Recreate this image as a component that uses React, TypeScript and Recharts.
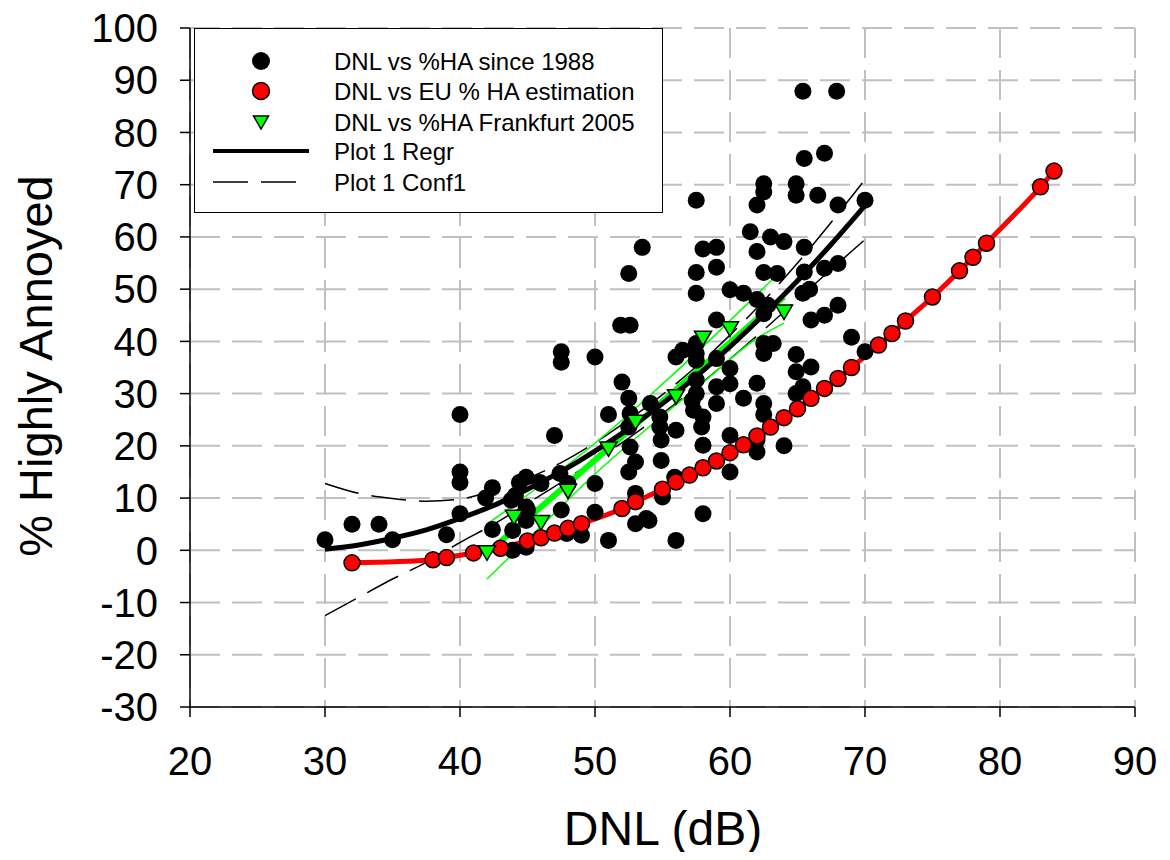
import { ComposedChart, Scatter, Line, XAxis, YAxis, CartesianGrid } from 'recharts';

// DNL vs %HA since 1988 (black dots): [DNL, %HA]
const surveyPoints: [number, number][] = [
  [30, 2], [32, 5], [34, 5], [35, 2], [39, 3], [40, 26], [40, 15], [40, 13], [40, 7],
  [41.9, 10], [42.4, 12], [42.4, 4], [43.8, 9.6], [44.1, 10.5], [44.4, 13], [44.9, 14],
  [45.9, 13], [43.9, 3.8], [44.9, 0.6], [43.9, 0], [44.9, 8.3], [44.9, 5.7], [45, 7.7],
  [46, 12.8], [47, 22], [47.4, 14.7], [47.5, 38], [47.5, 36], [47.5, 7.7], [47.9, 3.2],
  [48, 12.8], [49, 2.9], [50, 37], [50, 12.8], [50, 7.3], [51, 26], [51, 1.9],
  [51.9, 43.1], [52.6, 43.1], [52, 32.2], [52.5, 29.1], [52.5, 23.6], [52.6, 26.2],
  [52.6, 19.8], [53, 16.9], [52.5, 15], [53, 10.9], [53, 5.1], [53.8, 6.1], [52.5, 53],
  [53.5, 58], [54.1, 28.1], [54, 5.7], [54.8, 25.5], [54.8, 23.6], [54.9, 21.1],
  [54.9, 17.2], [55, 10.2], [55.9, 14], [56, 23], [56, 37], [56.5, 38.3], [57.5, 39.6],
  [57.5, 37.7], [57.5, 36.4], [57.5, 32.6], [57.5, 30], [57.2, 28.7], [57.3, 26.8],
  [57.5, 67], [57.5, 53.2], [57.5, 49.2], [58, 57.7], [58, 25.5], [57.9, 23.6], [58, 20.1],
  [58, 7], [56, 1.9], [59, 58], [59, 54.2], [59, 44.1], [59, 36.7], [59, 31.3], [59, 28.1],
  [60, 49.9], [60, 34.8], [60, 31.9], [60, 22], [60, 15], [61, 49.2], [61, 29.1],
  [61.5, 61], [62, 66.1], [62, 57.2], [62, 48], [62, 32], [62, 21.1], [62, 18.8],
  [62.5, 70.2], [62.5, 68.6], [62.5, 53.2], [62.5, 45.3], [62.8, 46.9], [62.5, 39.6],
  [62.5, 37.7], [62.5, 28.1], [62.5, 26], [63, 60], [63.2, 39.6], [63.5, 53], [64, 59.1],
  [64, 20], [64.9, 70.2], [64.9, 68], [65.4, 87.9], [65.5, 75], [65.5, 58], [65.5, 53.3],
  [65.4, 49.2], [65.9, 50], [66, 44.1], [66, 35.1], [64.9, 37.5], [64.9, 34.2],
  [65.4, 31.3], [64.9, 30], [66.5, 68], [67, 76], [67, 54], [67, 45], [67.9, 87.9],
  [68, 66.1], [68, 54.9], [68, 46.9], [69, 40.8], [70, 38], [70, 67],
];

// DNL vs EU % HA estimation (red)
const euDnl = [32, 38, 39, 41, 43, 45, 46, 47, 48, 49, 52, 53, 55, 56, 57, 58, 59, 60, 61, 62, 63, 64, 65, 66, 67, 68, 69, 71, 72, 73, 75, 77, 78, 79, 83, 84];
const euHa = [-2.4, -1.8, -1.4, -0.5, 0.4, 1.8, 2.4, 3.3, 4.2, 5.1, 8.0, 9.3, 11.7, 13.1, 14.4, 15.8, 17.1, 18.7, 20.2, 21.9, 23.6, 25.4, 27.1, 29.1, 31.0, 32.9, 35.0, 39.3, 41.5, 43.9, 48.5, 53.5, 56.1, 58.8, 69.6, 72.6];

// DNL vs %HA Frankfurt 2005 (green triangles)
const frankfurtDnl = [42, 44, 46, 48, 51, 53, 56, 58, 60, 64];
const frankfurtHa = [-0.1, 6.7, 5.7, 11.7, 19.8, 24.9, 29.8, 41, 42.8, 46];

// Plot 1 regression and confidence band (black)
const regrDnl = [30, 32.5, 35, 37.5, 40, 42.5, 45, 47.5, 50, 52.5, 55, 57.5, 60, 62.5, 65, 67.5, 70];
const regrHa = [0.2, 1.0, 2.3, 3.9, 6.1, 8.6, 11.7, 15.1, 19.0, 23.3, 28.1, 33.3, 39.0, 45.1, 51.6, 58.6, 66.0];
const confUpperHa = [12.8, 10.9, 9.9, 9.4, 9.8, 11.5, 13.8, 16.8, 20.6, 25.0, 29.8, 35.2, 41.2, 47.8, 55.0, 62.8, 71.0];
const confLowerHa = [-12.5, -9.0, -5.5, -2.3, 1.5, 5.0, 9.0, 13.0, 17.2, 21.5, 26.2, 31.2, 36.6, 42.2, 48.0, 53.8, 59.5];

// Frankfurt regression and confidence band (green)
const greenDnl = [42, 46, 50, 54, 58, 62, 64];
const greenRegrHa = [-0.5, 8.3, 17.3, 26.3, 35.3, 44.3, 48.5];
const greenUpperHa = [5, 12.5, 20.5, 29.5, 39, 49, 54];
const greenLowerHa = [-5.5, 4.6, 14.6, 23.6, 32.1, 40.6, 43.5];

const xTicks = [20, 30, 40, 50, 60, 70, 80, 90];
const yTicks = [-30, -20, -10, 0, 10, 20, 30, 40, 50, 60, 70, 80, 90, 100];

const pairs = (xs: number[], ys: number[]) => xs.map((x, i) => ({ x, y: ys[i] }));

const surveyData = surveyPoints.map(([x, y]) => ({ x, y }));
const euData = pairs(euDnl, euHa);
const frankfurtData = pairs(frankfurtDnl, frankfurtHa);
const regrData = pairs(regrDnl, regrHa);
const upperData = pairs(regrDnl, confUpperHa);
const lowerData = pairs(regrDnl, confLowerHa);
const greenRegrData = pairs(greenDnl, greenRegrHa);
const greenUpperData = pairs(greenDnl, greenUpperHa);
const greenLowerData = pairs(greenDnl, greenLowerHa);

const FONT = '"Liberation Sans", Arial, Helvetica, sans-serif';

const BlackDot = (props: any) => <circle cx={props.cx} cy={props.cy} r={8.5} fill="#000" />;

const Triangle = (props: any) => {
  const { cx, cy } = props;
  return (
    <polygon
      points={`${cx - 8.5},${cy - 5} ${cx + 8.5},${cy - 5} ${cx},${cy + 9.5}`}
      fill="#00ff00"
      stroke="#000"
      strokeWidth={1.5}
    />
  );
};

function LegendBox() {
  const rowY = [33, 63, 94, 123, 154];
  const labels = [
    'DNL vs %HA since 1988',
    'DNL vs EU % HA estimation',
    'DNL vs %HA Frankfurt 2005',
    'Plot 1 Regr',
    'Plot 1 Conf1',
  ];
  return (
    <div style={{ position: 'absolute', left: 186, top: 28, width: 469, height: 185, background: '#fff', border: '1.5px solid #000', boxSizing: 'border-box' }}>
      <svg width={469} height={185} style={{ position: 'absolute', left: -1.5, top: -1.5 }}>
        <circle cx={67} cy={rowY[0]} r={9} fill="#000" />
        <circle cx={67} cy={rowY[1]} r={8.5} fill="#ff0000" stroke="#000" strokeWidth={1.5} />
        <polygon points={`${59.5},${rowY[2] - 6} ${74.5},${rowY[2] - 6} ${67},${rowY[2] + 7}`} fill="#00ff00" stroke="#000" strokeWidth={1.5} />
        <line x1={19} x2={115} y1={rowY[3]} y2={rowY[3]} stroke="#000" strokeWidth={4} />
        <line x1={19} x2={103} y1={rowY[4]} y2={rowY[4]} stroke="#000" strokeWidth={1.5} strokeDasharray="35 13" />
        {labels.map((t, i) => (
          <text key={t} x={140} y={rowY[i]} dominantBaseline="central" fontSize={24} fontFamily={FONT} fill="#000">
            {t}
          </text>
        ))}
      </svg>
    </div>
  );
}

export default function App() {
  return (
    <div style={{ position: 'relative', marginTop: -8, width: 1154, height: 852, fontFamily: FONT }}>
      <ComposedChart width={1154} height={852} margin={{ top: 28, right: 27, left: 0, bottom: 20 }}>
        <CartesianGrid stroke="#c0c0c0" strokeWidth={2} strokeDasharray="30 12" />
        <XAxis
          type="number"
          dataKey="x"
          domain={[20, 90]}
          ticks={xTicks}
          interval={0}
          allowDataOverflow
          height={125}
          tickSize={10}
          tickMargin={30}
          stroke="#000"
          strokeWidth={1.5}
          tick={{ fontSize: 40, fill: '#000', fontFamily: FONT }}
        />
        <YAxis
          type="number"
          dataKey="y"
          domain={[-30, 100]}
          ticks={yTicks}
          interval={0}
          allowDataOverflow
          width={182}
          tickSize={10}
          tickMargin={22}
          stroke="#000"
          strokeWidth={1.5}
          tick={{ fontSize: 40, fill: '#000', fontFamily: FONT }}
        />
        <Scatter data={surveyData} dataKey="y" shape={BlackDot} isAnimationActive={false} />
        <Line data={upperData} dataKey="y" type="monotone" stroke="#000" strokeWidth={1.5} strokeDasharray="35 13" dot={false} isAnimationActive={false} />
        <Line data={lowerData} dataKey="y" type="monotone" stroke="#000" strokeWidth={1.5} strokeDasharray="35 13" dot={false} isAnimationActive={false} />
        <Line data={greenUpperData} dataKey="y" type="monotone" stroke="#00ff00" strokeWidth={1.5} dot={false} isAnimationActive={false} />
        <Line data={greenLowerData} dataKey="y" type="monotone" stroke="#00ff00" strokeWidth={1.5} dot={false} isAnimationActive={false} />
        <Line data={greenRegrData} dataKey="y" type="linear" stroke="#00ff00" strokeWidth={6} dot={false} isAnimationActive={false} />
        <Line data={regrData} dataKey="y" type="monotone" stroke="#000" strokeWidth={5} dot={false} isAnimationActive={false} />
        <Line
          data={euData}
          dataKey="y"
          type="monotone"
          stroke="#ff0000"
          strokeWidth={5}
          dot={{ r: 8, fill: '#ff0000', stroke: '#000', strokeWidth: 1.5 }}
          isAnimationActive={false}
        />
        <Scatter data={frankfurtData} dataKey="y" shape={Triangle} isAnimationActive={false} />
      </ComposedChart>
      <LegendBox />
      <div style={{ position: 'absolute', left: 655, top: 828, transform: 'translate(-50%, -50%)', fontSize: 48, whiteSpace: 'nowrap' }}>
        DNL (dB)
      </div>
      <div style={{ position: 'absolute', left: 27, top: 366, transform: 'translate(-50%, -50%) rotate(-90deg)', fontSize: 47, whiteSpace: 'nowrap' }}>
        % Highly Annoyed
      </div>
    </div>
  );
}
